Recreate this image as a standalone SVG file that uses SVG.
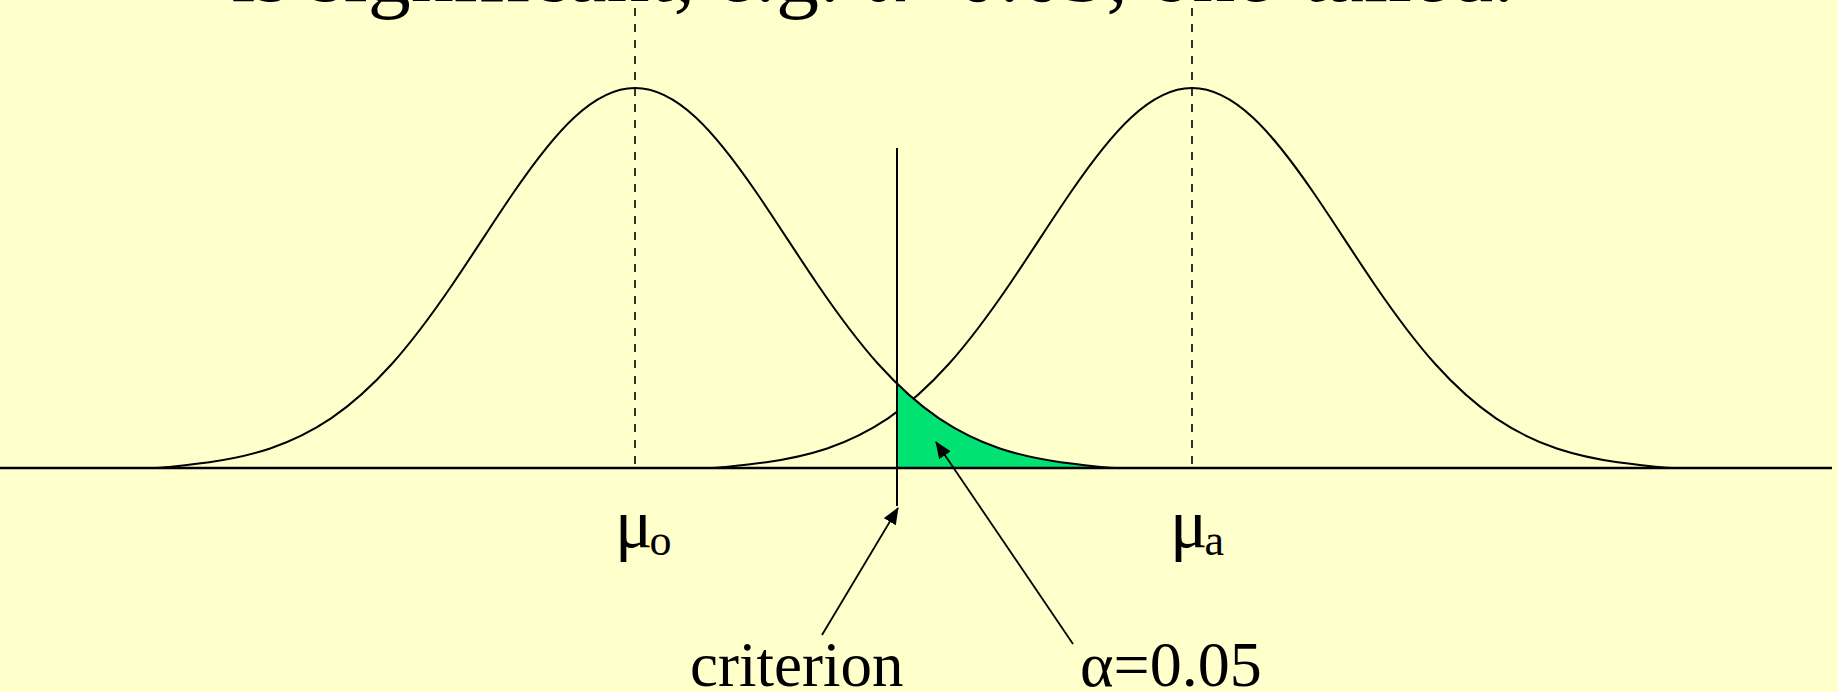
<svg xmlns="http://www.w3.org/2000/svg" xmlns:xlink="http://www.w3.org/1999/xlink" width="1838" height="692" viewBox="0 0 1838 692">
<style>
  .txt { font-family: "Liberation Serif", "Times New Roman", serif; fill: #000; }
  .curve { fill: none; stroke: #000; stroke-width: 2; }
  .dash { fill: none; stroke: #000; stroke-width: 1.6; stroke-dasharray: 8 8; }
  .line { fill: none; stroke: #000; stroke-width: 2; }
  .axis { fill: none; stroke: #000; stroke-width: 2.6; }
  .arrow { fill: none; stroke: #000; stroke-width: 1.8; marker-end: url(#head); }
  .alpha { fill: #00E272; stroke: none; }
</style>
<defs>
  <marker id="head" viewBox="0 0 17 14" refX="16" refY="7" markerWidth="17" markerHeight="14" markerUnits="userSpaceOnUse" orient="auto">
    <path d="M0,0 L17,7 L0,14 Z" fill="#000"/>
  </marker>
  <path id="bell" d="M -480,0 C -462,-1.2 -445.87,-3.2 -425.6,-5.8 C -405.33,-8.6 -385.07,-12.8 -364.8,-19.5 C -344.53,-26.4 -324.27,-36 -304,-49.6 C -283.73,-63.4 -263.47,-81.5 -243.2,-104 C -222.93,-126.7 -202.67,-154.1 -182.4,-183.8 C -162.13,-213.5 -141.87,-245.6 -121.6,-275.2 C -101.33,-304.8 -81.07,-331.7 -60.8,-350.5 C -40.53,-369.4 -20.27,-380 0,-380 C 20.27,-380 40.53,-369.4 60.8,-350.5 C 81.07,-331.7 101.33,-304.8 121.6,-275.2 C 141.87,-245.6 162.13,-213.5 182.4,-183.8 C 202.67,-154.1 222.93,-126.7 243.2,-104 C 263.47,-81.5 283.73,-63.4 304,-49.6 C 324.27,-36 344.53,-26.4 364.8,-19.5 C 385.07,-12.8 405.33,-8.6 425.6,-5.8 C 445.87,-3.2 462,-1.2 480,0"/>
  <clipPath id="rightOfCriterion">
    <rect x="897" y="0" width="941" height="468"/>
  </clipPath>
</defs>
<rect x="0" y="0" width="1838" height="692" fill="#FFFFCC"/>

<g id="title">
  <text class="txt" x="873" y="1" font-size="86" text-anchor="middle">is significant, e.g. α=0.05, one-tailed.</text>
</g>

<g id="mean-lines">
  <line class="dash" x1="635" y1="8" x2="635" y2="468"/>
  <line class="dash" x1="1192" y1="8" x2="1192" y2="468"/>
</g>

<g id="alt-distribution">
  <use xlink:href="#bell" href="#bell" class="curve" transform="translate(1192,468)"/>
</g>

<g id="alpha-region" clip-path="url(#rightOfCriterion)">
  <use xlink:href="#bell" href="#bell" class="alpha" transform="translate(635,468)"/>
</g>

<g id="null-distribution">
  <use xlink:href="#bell" href="#bell" class="curve" transform="translate(635,468)"/>
</g>

<g id="criterion-line">
  <line class="line" x1="897" y1="148" x2="897" y2="506"/>
</g>

<g id="axis">
  <line class="axis" x1="0" y1="468" x2="1832" y2="468"/>
</g>

<g id="connectors">
  <line class="arrow" x1="822" y1="635" x2="898" y2="508"/>
  <line class="arrow" x1="1073" y1="644" x2="936" y2="442"/>
</g>

<g id="label-mu-o">
  <text class="txt" x="615" y="547" font-size="70">μ<tspan font-size="44" dx="-3" dy="8">o</tspan></text>
</g>
<g id="label-mu-a">
  <text class="txt" x="1170" y="547" font-size="70">μ<tspan font-size="44" dx="-3" dy="8">a</tspan></text>
</g>
<g id="label-criterion">
  <text class="txt" x="690" y="686" font-size="63">criterion</text>
</g>
<g id="label-alpha">
  <text class="txt" x="1080" y="686" font-size="64">α=0.05</text>
</g>
</svg>
